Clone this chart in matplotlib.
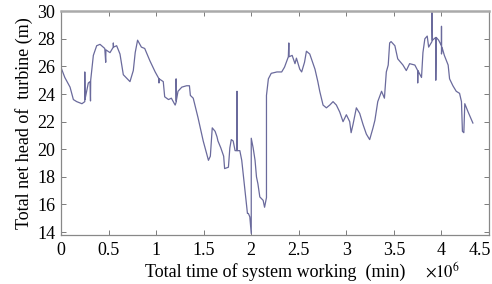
import matplotlib.pyplot as plt
import matplotlib.transforms as mtransforms

# time in units of 1e6 min, head in m
t = [0.007, 0.04, 0.095, 0.13, 0.165, 0.22, 0.25, 0.25, 0.252, 0.287, 0.305, 0.31, 0.312,
     0.34, 0.375, 0.41, 0.46, 0.47, 0.472, 0.515, 0.55, 0.55, 0.552, 0.585, 0.62, 0.655,
     0.725, 0.76, 0.78, 0.805, 0.845, 0.88, 0.935, 0.99, 1.03, 1.03, 1.032, 1.075, 1.09,
     1.13, 1.16, 1.2, 1.21, 1.21, 1.212, 1.23, 1.27, 1.32, 1.35, 1.36, 1.39, 1.44, 1.495,
     1.55, 1.57, 1.59, 1.62, 1.64, 1.65, 1.68, 1.71, 1.72, 1.76, 1.775, 1.79, 1.81, 1.83,
     1.85, 1.85, 1.852, 1.88, 1.9, 1.93, 1.96, 1.97, 1.985, 2.0, 2.0, 2.02, 2.04, 2.055,
     2.07, 2.09, 2.125, 2.14, 2.16, 2.16, 2.18, 2.21, 2.27, 2.32, 2.35, 2.39, 2.395, 2.398,
     2.43, 2.46, 2.475, 2.51, 2.53, 2.56, 2.58, 2.615, 2.67, 2.70, 2.72, 2.755, 2.79,
     2.825, 2.86, 2.895, 2.93, 2.965, 3.0, 3.035, 3.05, 3.07, 3.105, 3.14, 3.175, 3.21,
     3.245, 3.28, 3.30, 3.33, 3.37, 3.40, 3.42, 3.44, 3.455, 3.47, 3.51, 3.54, 3.595,
     3.63, 3.665, 3.72, 3.75, 3.75, 3.752, 3.79, 3.805, 3.825, 3.85, 3.865, 3.90, 3.90,
     3.905, 3.94, 3.94, 3.945, 3.97, 4.0, 4.0, 4.0, 4.005, 4.03, 4.07, 4.085, 4.12, 4.155,
     4.19, 4.21, 4.22, 4.235, 4.245, 4.28, 4.33]
head = [25.8, 25.2, 24.5, 23.6, 23.45, 23.3, 23.45, 25.6, 23.6, 24.8, 24.9, 23.5, 25.0,
        26.8, 27.5, 27.6, 27.3, 26.3, 27.2, 27.0, 27.4, 27.7, 27.4, 27.5, 26.9, 25.4,
        24.9, 25.7, 27.0, 27.9, 27.4, 27.3, 26.4, 25.6, 25.1, 24.8, 25.1, 24.9, 23.8,
        23.6, 23.7, 23.2, 23.4, 25.1, 23.5, 24.2, 24.5, 24.6, 24.6, 23.9, 23.7, 22.3, 20.6,
        19.2, 19.5, 21.55, 21.3, 20.9, 20.6, 20.1, 19.5, 18.6, 18.7, 20.1, 20.7, 20.6, 19.9,
        19.9, 24.2, 19.9, 19.9, 19.2, 17.25, 15.35, 15.35, 15.1, 13.9, 20.8, 20.1, 19.2, 18.0,
        17.5, 16.55, 16.3, 15.8, 16.5, 23.9, 25.1, 25.5, 25.6, 25.6, 25.95, 26.7, 27.7, 26.7,
        26.8, 26.2, 26.6, 25.8, 25.6, 26.3, 27.1, 26.9, 25.8, 24.9, 24.2, 23.2, 23.0,
        23.2, 23.45, 23.2, 22.7, 22.0, 22.5, 22.0, 21.2, 21.8, 23.0, 22.6, 21.8, 21.1,
        20.7, 21.55, 22.1, 23.45, 24.2, 23.7, 25.6, 26.1, 27.7, 27.8, 27.5, 26.55, 26.1,
        25.7, 26.2, 26.1, 25.7, 24.8, 25.7, 25.2, 27.0, 28.0, 28.2, 27.4, 27.8, 29.9,
        27.9, 28.1, 25.0, 28.1, 27.9, 27.5, 28.9, 26.9, 27.4, 26.8, 26.1, 25.1, 24.6, 24.2,
        24.05, 23.45, 21.3, 21.2, 23.3, 22.7, 21.9]

xticks = [0, 0.5, 1, 1.5, 2, 2.5, 3, 3.5, 4, 4.5]
xticklabels = ['0', '0.5', '1', '1.5', '2', '2.5', '3', '3.5', '4', '4.5']
yticks = [14, 16, 18, 20, 22, 24, 26, 28, 30]

plt.rcParams['font.family'] = ['Liberation Serif', 'DejaVu Serif']

fig = plt.figure(figsize=(4.92, 2.84), dpi=100)
ax = fig.add_axes([0.124, 0.173, 0.870, 0.790])
ax.plot(t, head, color='#6a6a9c', lw=0.9)

ax.set_xlim(0, 4.5)
ax.set_ylim(13.8, 30.05)
ax.set_xticks(xticks)
ax.set_xticklabels(xticklabels)
ax.set_yticks(yticks)
ax.tick_params(direction='in', top=True, right=True, length=3.5, width=0.6,
               color='#666666', labelsize=13)
ax.tick_params(axis='x', pad=5)
ax.tick_params(axis='y', pad=4)
for s in ax.spines.values():
    s.set_color('#888888')
    s.set_linewidth(0.9)
ax.spines['top'].set_linewidth(1.8)
ax.spines['top'].set_color('#aaaaaa')

# nudge the last label in so it fits inside the picture
last = ax.get_xticklabels()[-1]
last.set_transform(last.get_transform() +
                   mtransforms.ScaledTranslation(-9 / 100, 0, fig.dpi_scale_trans))

ax.set_xlabel('Total time of system working  (min)', fontsize=13, labelpad=3)
ax.set_ylabel('Total net head of  turbine (m)', fontsize=13, labelpad=3)
ax.text(0.85, -0.165, r'$\times10^{6}$', transform=ax.transAxes, fontsize=12,
        va='center', ha='left', math_fontfamily='stix')

fig.savefig('out.png', dpi=100)
